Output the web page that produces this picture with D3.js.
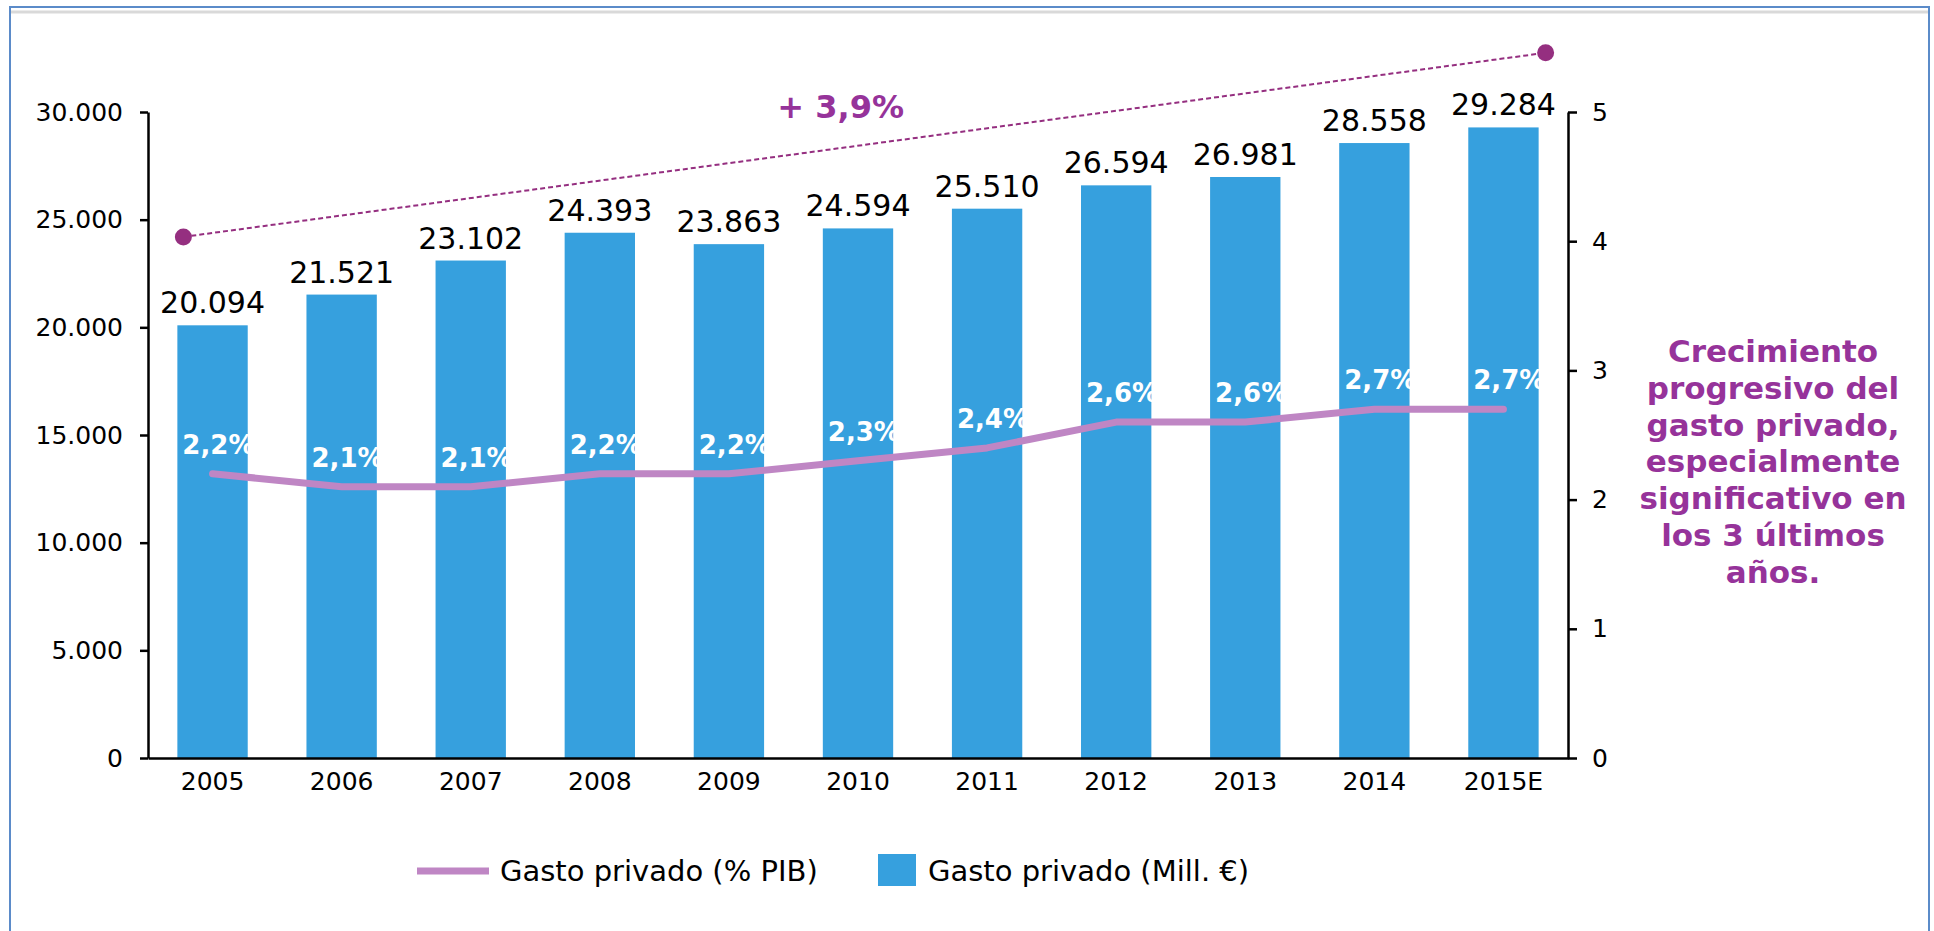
<!DOCTYPE html>
<html>
<head>
<meta charset="utf-8">
<script src="https://cdn.jsdelivr.net/npm/d3@7"></script>
<style>
  body { margin: 0; background: #fff; }
  svg { display: block; font-family: "DejaVu Sans", Verdana, sans-serif; }
</style>
</head>
<body>
<div id="chart"></div>
<script>
// --- Data ---
const years = ["2005", "2006", "2007", "2008", "2009", "2010", "2011", "2012", "2013", "2014", "2015E"];
const gastoMill = [20094, 21521, 23102, 24393, 23863, 24594, 25510, 26594, 26981, 28558, 29284];
const gastoPib = [2.2, 2.1, 2.1, 2.2, 2.2, 2.3, 2.4, 2.6, 2.6, 2.7, 2.7];
const leftTicks = [0, 5000, 10000, 15000, 20000, 25000, 30000];
const rightTicks = [0, 1, 2, 3, 4, 5];
const trendYears = ["2005", "2015E"];
const trendValues = [24200, 32750];
const trendLabel = "+ 3,9%";
const noteLines = ["Crecimiento", "progresivo del", "gasto privado,", "especialmente", "significativo en", "los 3 últimos", "años."];
const legendLabels = ["Gasto privado (% PIB)", "Gasto privado (Mill. €)"];

// --- Settings ---
const width = 1934, height = 931;
const barColor = "#36A0DE";
const lineColor = "#BF86C4";
const trendColor = "#952F80";
const noteColor = "#96339A";

const es = d3.formatLocale({ decimal: ",", thousands: ".", grouping: [3], currency: ["", " €"] });
const fmtThousands = es.format(",d");
const fmtPct = es.format(".1f");

const svg = d3.select("#chart").append("svg").attr("width", width).attr("height", height);

// frame
svg.append("rect")
  .attr("x", 10).attr("y", 7).attr("width", 1919).attr("height", 960)
  .attr("fill", "none").attr("stroke", "#5B8BC9").attr("stroke-width", 2);
svg.append("line")
  .attr("x1", 11).attr("x2", 1928).attr("y1", 12).attr("y2", 12)
  .attr("stroke", "#D9D9D9").attr("stroke-width", 3);

// scales
const x = d3.scaleBand().domain(years).range([148, 1568]).paddingInner(0.455).paddingOuter(0.2275);
const yL = d3.scaleLinear().domain([0, 30000]).range([758, 112]);
const yR = d3.scaleLinear().domain([0, 5]).range([758, 112]);

// bars
svg.append("g").selectAll("rect").data(years).join("rect")
  .attr("x", (d) => x(d))
  .attr("y", (d, i) => yL(gastoMill[i]))
  .attr("width", x.bandwidth())
  .attr("height", (d, i) => yL(0) - yL(gastoMill[i]))
  .attr("fill", barColor);

// value labels above bars
svg.append("g").selectAll("text").data(years).join("text")
  .attr("x", (d) => x(d) + x.bandwidth() / 2)
  .attr("y", (d, i) => yL(gastoMill[i]) - 12)
  .attr("text-anchor", "middle")
  .attr("font-size", 30)
  .attr("fill", "#000")
  .text((d, i) => fmtThousands(gastoMill[i]));

// % PIB line
const line = d3.line()
  .x((d, i) => x(years[i]) + x.bandwidth() / 2)
  .y((d) => yR(d));
svg.append("path")
  .datum(gastoPib)
  .attr("d", line)
  .attr("fill", "none")
  .attr("stroke", lineColor)
  .attr("stroke-width", 7)
  .attr("stroke-linecap", "round")
  .attr("stroke-linejoin", "round");

// % labels (white, bold)
svg.append("g").selectAll("text").data(years).join("text")
  .attr("x", (d) => x(d) + 5)
  .attr("y", (d, i) => yR(gastoPib[i]) - 20)
  .attr("font-size", 26)
  .attr("font-weight", "bold")
  .attr("fill", "#fff")
  .text((d, i) => fmtPct(gastoPib[i]) + "%");

// axes
const axisL = svg.append("g").attr("transform", "translate(148,0)")
  .call(d3.axisLeft(yL).tickValues(leftTicks).tickFormat(fmtThousands).tickSize(8).tickSizeOuter(0).tickPadding(17));
const axisR = svg.append("g").attr("transform", "translate(1568,0)")
  .call(d3.axisRight(yR).tickValues(rightTicks).tickFormat(d3.format("d")).tickSize(9).tickSizeOuter(0).tickPadding(15));
const axisB = svg.append("g").attr("transform", "translate(0,758)")
  .call(d3.axisBottom(x).tickSize(0).tickPadding(14));

[axisL, axisR, axisB].forEach((g) => {
  g.selectAll(".domain, .tick line").attr("stroke", "#000").attr("stroke-width", 2.5);
  g.selectAll("text").attr("fill", "#000").attr("font-size", 25).attr("font-family", "DejaVu Sans, Verdana, sans-serif");
});

// trend annotation
const tx0 = x(trendYears[0]) + 6;
const tx1 = x(trendYears[1]) + x.bandwidth() + 7;
const ty0 = yL(trendValues[0]);
const ty1 = yL(trendValues[1]);
svg.append("line")
  .attr("x1", tx0).attr("y1", ty0).attr("x2", tx1).attr("y2", ty1)
  .attr("stroke", trendColor).attr("stroke-width", 2).attr("stroke-dasharray", "5,3");
svg.selectAll(".trend-dot").data([[tx0, ty0], [tx1, ty1]]).join("circle")
  .attr("class", "trend-dot")
  .attr("cx", (d) => d[0]).attr("cy", (d) => d[1]).attr("r", 8.5)
  .attr("fill", trendColor);
const tLab = 0.4825;
svg.append("text")
  .attr("x", tx0 + (tx1 - tx0) * tLab)
  .attr("y", ty0 + (ty1 - ty0) * tLab - 30)
  .attr("text-anchor", "middle")
  .attr("font-size", 32)
  .attr("font-weight", "bold")
  .attr("fill", noteColor)
  .text(trendLabel);

// side note
svg.append("text")
  .attr("text-anchor", "middle")
  .attr("font-size", 31)
  .attr("font-weight", "bold")
  .attr("fill", noteColor)
  .selectAll("tspan").data(noteLines).join("tspan")
  .attr("x", 1773)
  .attr("y", (d, i) => 362 + i * 36.8)
  .text((d) => d);

// legend
const leg = svg.append("g");
leg.append("line")
  .attr("x1", 417).attr("x2", 489).attr("y1", 871).attr("y2", 871)
  .attr("stroke", lineColor).attr("stroke-width", 7);
leg.append("text").attr("x", 500).attr("y", 881).attr("font-size", 29).attr("fill", "#000").text(legendLabels[0]);
leg.append("rect").attr("x", 878).attr("y", 854).attr("width", 38).attr("height", 32).attr("fill", barColor);
leg.append("text").attr("x", 928).attr("y", 881).attr("font-size", 29).attr("fill", "#000").text(legendLabels[1]);
</script>
</body>
</html>
